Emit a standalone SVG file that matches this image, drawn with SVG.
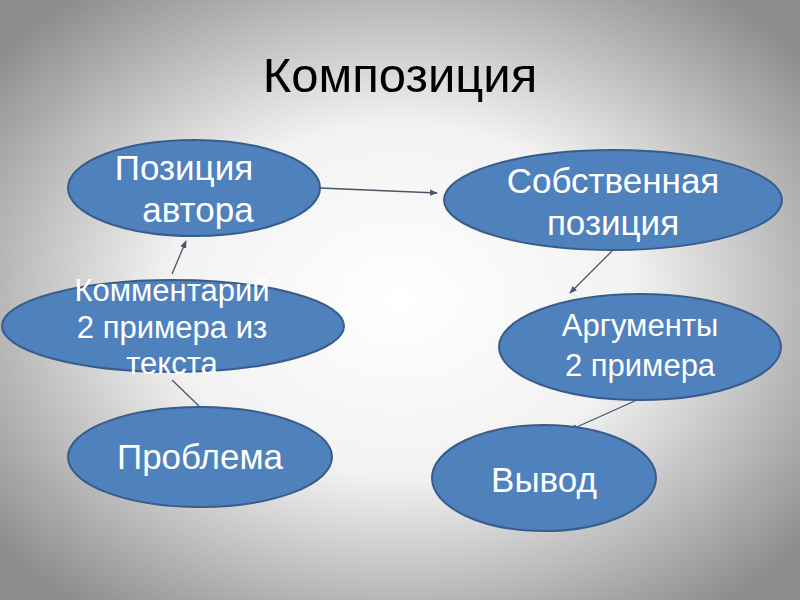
<svg xmlns="http://www.w3.org/2000/svg" width="800" height="600" viewBox="0 0 800 600">
<defs>
<radialGradient id="bg" cx="50%" cy="50%" r="65%">
<stop offset="0" stop-color="#ffffff"/>
<stop offset="0.45" stop-color="#f2f2f2"/>
<stop offset="1" stop-color="#8c8c8c"/>
</radialGradient>
<marker id="arr" viewBox="0 0 10 10" refX="9" refY="5" markerWidth="6" markerHeight="6" orient="auto">
<path d="M0,1 L10,5 L0,9 z" fill="#4a5566"/>
</marker>
</defs>
<style>
.node ellipse{fill:#4f81bd;stroke:#385d8a;stroke-width:2}
.node text{fill:#ffffff;font-family:"Liberation Sans",Arial,sans-serif;text-anchor:middle}
.conn line{stroke:#4a5566;stroke-width:1.3}
.title{font-family:"Liberation Sans",Arial,sans-serif;font-size:49px;fill:#000;text-anchor:middle}
</style>
<rect width="800" height="600" fill="url(#bg)"/>
<text class="title" x="400" y="92">Композиция</text>
<g class="conn">
<line x1="320" y1="188" x2="437" y2="193" marker-end="url(#arr)"/>
<line x1="172" y1="274" x2="186" y2="241" marker-end="url(#arr)"/>
<line x1="199" y1="406" x2="172" y2="380"/>
<line x1="612" y1="251" x2="570" y2="293" marker-end="url(#arr)"/>
<line x1="637" y1="400" x2="570" y2="430" marker-end="url(#arr)"/>
</g>
<g id="n1" class="node">
<ellipse cx="194" cy="188" rx="126" ry="48"/>
<text x="184" y="180" font-size="35">Позиция</text>
<text x="198" y="222" font-size="35">автора</text>
</g>
<g id="n2" class="node">
<ellipse cx="613" cy="200" rx="169" ry="50"/>
<text x="613" y="193" font-size="35">Собственная</text>
<text x="613" y="235" font-size="35">позиция</text>
</g>
<g id="n3" class="node">
<ellipse cx="173" cy="326" rx="171" ry="46"/>
<text x="172" y="301" font-size="31">Комментарий</text>
<text x="172" y="338" font-size="31">2 примера из</text>
<text x="172" y="374" font-size="31">текста</text>
</g>
<g id="n4" class="node">
<ellipse cx="640" cy="347" rx="141" ry="53"/>
<text x="640" y="336" font-size="31">Аргументы</text>
<text x="640" y="376" font-size="31">2 примера</text>
</g>
<g id="n5" class="node">
<ellipse cx="200" cy="457" rx="132" ry="50"/>
<text x="200" y="469" font-size="35">Проблема</text>
</g>
<g id="n6" class="node">
<ellipse cx="544" cy="478" rx="112" ry="53"/>
<text x="544" y="492" font-size="35">Вывод</text>
</g>
</svg>
